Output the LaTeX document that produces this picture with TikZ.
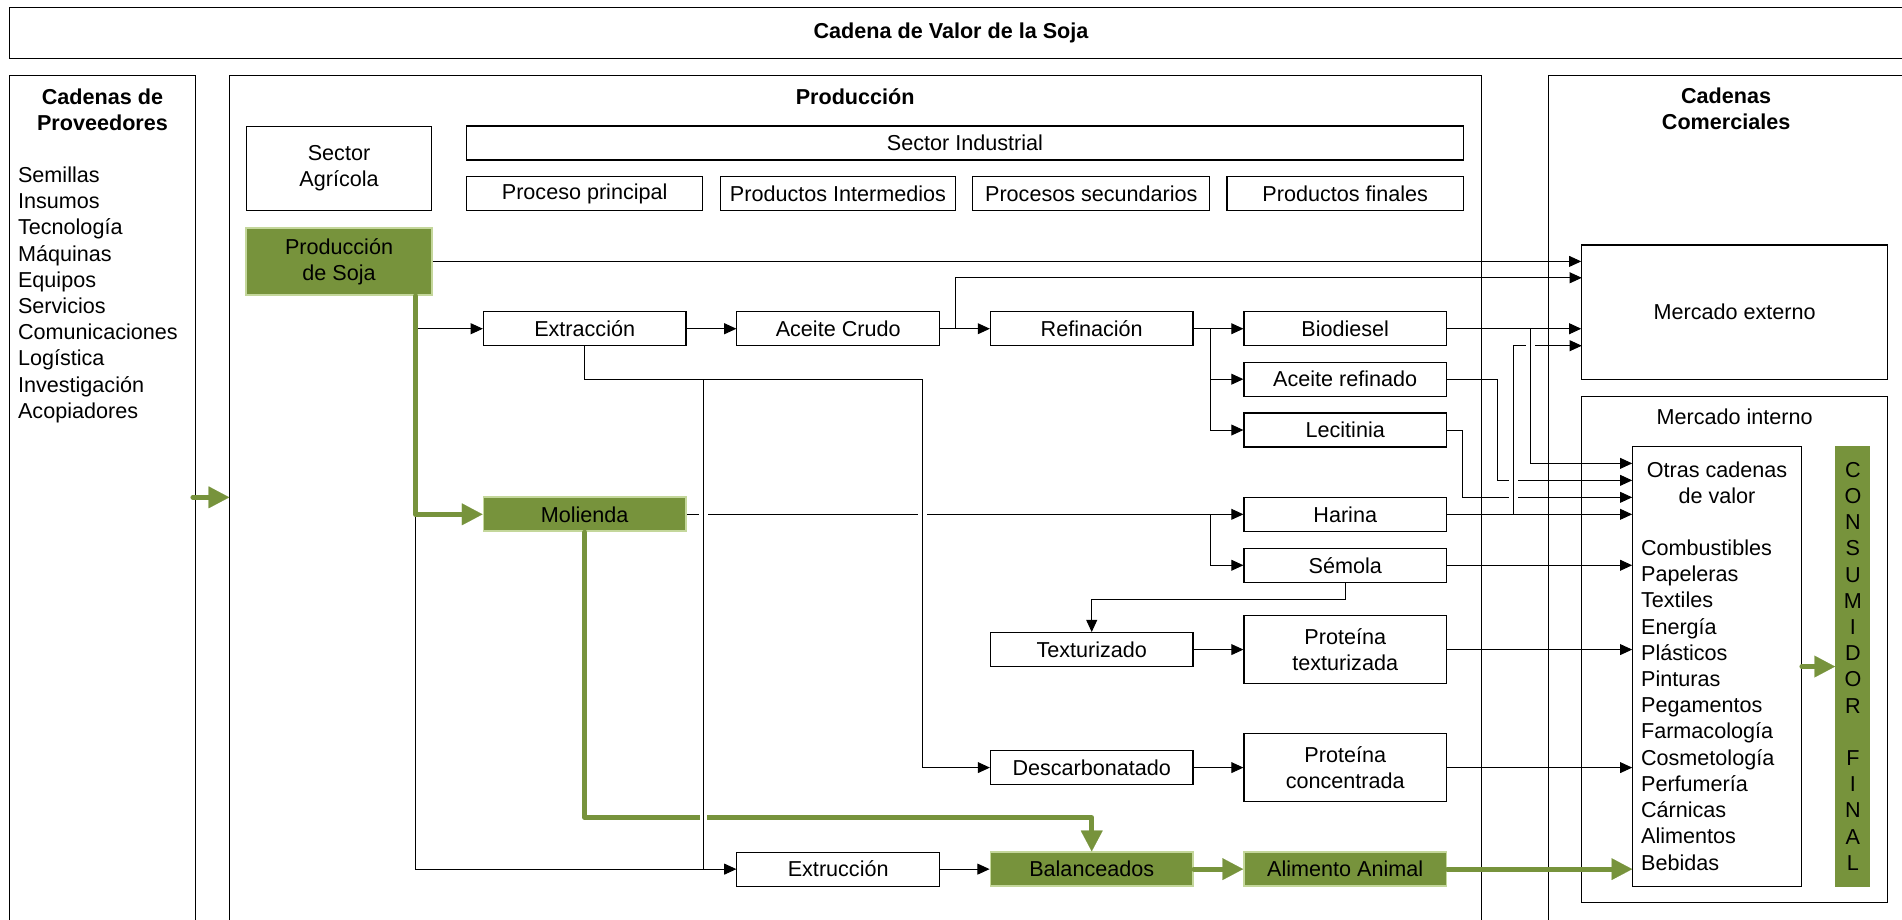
\documentclass[tikz,border=0pt]{standalone}
\usepackage{fontspec}
\setmainfont{Liberation Sans}
\usetikzlibrary{arrows.meta,calc}
\definecolor{soyg}{RGB}{119,147,60}
\definecolor{soyl}{RGB}{196,215,155}
\begin{document}
\begin{tikzpicture}[x=1pt,y=-1pt,
  every node/.style={font=\fontsize{17.8}{21.6}\selectfont, inner sep=0pt},
  box/.style={draw=black, line width=0.9pt, fill=white, minimum width=167pt, minimum height=28pt, align=center},
  gbox/.style={box, draw=soyl, fill=soyg, line width=1.4pt},
  conn/.style={line width=0.8pt},
  arr/.style={conn, -{Triangle[length=10pt,width=9pt]}},
  garr/.style={draw=soyg, line width=4pt, line cap=round, line join=round, -{Triangle[length=17pt,width=18pt,line width=0.1pt]}},
  bridge/.style={draw=white, line width=3pt},
  gbridge/.style={draw=white, line width=6pt},
  frame/.style={draw=black, line width=0.9pt},
  head/.style={font=\fontsize{17.8}{21.6}\selectfont\bfseries, align=center}
]
\useasboundingbox (0,0) rectangle (1568,758);
\clip (0,0) rectangle (1568,758);
\fill[white] (0,0) rectangle (1568,758);

% containers
\draw[frame] (7.7,6) rectangle (1600,48);
\node[head] (titulo) at (784,27.5) {Cadena de Valor de la Soja};
\draw[frame] (7.7,62) rectangle (161,800);
\node[head] (provh) at (84.5,90.3) {Cadenas de\\Proveedores};
\node[align=left, anchor=west] (provl) at (14.7,243) {Semillas\\Insumos\\Tecnología\\Máquinas\\Equipos\\Servicios\\Comunicaciones\\Logística\\Investigación\\Acopiadores};
\draw[frame] (189,62) rectangle (1221,800);
\node[head] (prodh) at (705,79.5) {Producción};
\draw[frame] (1276.7,62) rectangle (1600,800);
\node[head] (comh) at (1423,90) {Cadenas\\Comerciales};

% header boxes
\node[box, minimum width=153pt, minimum height=69.7pt] (agri) at (279.5,138.9) {Sector\\Agrícola};
\node[box, minimum width=822pt] (ind) at (795.5,117.9) {Sector Industrial};
\node[box, minimum width=195pt] (h1) at (482,159.7) {Proceso principal};
\node[box, minimum width=194.4pt] (h2) at (690.8,159.7) {Productos Intermedios};
\node[box, minimum width=195.3pt] (h3) at (899.7,159.7) {Procesos secundarios};
\node[box, minimum width=195pt] (h4) at (1109,159.7) {Productos finales};

% process nodes
\node[gbox, minimum width=153pt, minimum height=55.5pt] (soja) at (279.5,215.5) {Producción\\de Soja};
\node[box] (extr) at (482,271) {Extracción};
\node[box] (acru) at (691,271) {Aceite Crudo};
\node[box] (refi) at (900,271) {Refinación};
\node[box] (bio) at (1109,271) {Biodiesel};
\node[box] (aref) at (1109,312.6) {Aceite refinado};
\node[box] (leci) at (1109,354.5) {Lecitinia};
\node[gbox] (moli) at (482,424) {Molienda};
\node[box] (har) at (1109,424) {Harina};
\node[box] (semo) at (1109,466) {Sémola};
\node[box] (tex) at (900,535.5) {Texturizado};
\node[box, minimum height=55.5pt] (ptex) at (1109,535.5) {Proteína\\texturizada};
\node[box] (desc) at (900,632.8) {Descarbonatado};
\node[box, minimum height=55.5pt] (pcon) at (1109,632.8) {Proteína\\concentrada};
\node[box] (extru) at (691,716.5) {Extrucción};
\node[gbox] (bal) at (900,716.5) {Balanceados};
\node[gbox] (alim) at (1109,716.5) {Alimento Animal};

% markets
\node[box, minimum width=252pt, minimum height=110.6pt] (mext) at (1430,257.3) {Mercado externo};
\node[box, minimum width=252pt, minimum height=417.5pt] (mint) at (1430,535.25) {};
\node (mintl) at (1430,343.5) {Mercado interno};
\node[box, minimum width=139pt, minimum height=363pt] (inner) at (1415.5,549.5) {};
\node[align=center] (otras) at (1415.5,398.3) {Otras cadenas\\de valor};
\node[align=left, anchor=west] (lista) at (1352.7,581.25) {Combustibles\\Papeleras\\Textiles\\Energía\\Plásticos\\Pinturas\\Pegamentos\\Farmacología\\Cosmetología\\Perfumería\\Cárnicas\\Alimentos\\Bebidas};
\node[fill=soyg, minimum width=29pt, minimum height=363pt] (cons) at (1527.5,549.5) {};
\node[align=center] (consl) at (1527.5,549.3) {C\\O\\N\\S\\U\\M\\I\\D\\O\\R\\\mbox{}\\F\\I\\N\\A\\L};

% coordinates
\coordinate (gx) at (342.6,424);
\coordinate (ga) at (342.6,271);
\coordinate (ac) at (788,271);
\coordinate (ac2) at (1304,229);
\coordinate (rf) at (997.5,271);
\coordinate (mf) at (997.5,424);
\coordinate (s1) at (900,494);
\coordinate (k1) at (760.7,313);
\coordinate (k2) at (580,313);
\coordinate (k3) at (580,716.5);
\coordinate (g3) at (900,674);
\coordinate (ar1) at (1234.7,396);
\coordinate (le1) at (1206,410);
\coordinate (hb) at (1248,424);
\coordinate (hb2) at (1304,285);
\coordinate (bb) at (1262,271);
\coordinate (bb2) at (1262,382);
\coordinate (pv1) at (159,410);
\coordinate (pv2) at (189,410);

% black connectors
\draw[arr] (gx) |- (extru.west);
\draw[arr] (ga) -- (extr.west);
\draw[arr] (soja.east) -- (soja.east -| mext.west);
\draw[arr] (extr.east) -- (acru.west);
\draw[arr] (acru.east) -- (refi.west);
\draw[arr] (ac) |- (ac2);
\draw[arr] (refi.east) -- (bio.west);
\draw[arr] (rf) |- (aref.west);
\draw[arr] (rf) |- (leci.west);
\draw[arr] (moli.east) -- (har.west);
\draw[arr] (mf) |- (semo.west);
\draw[arr] (semo.south) |- (s1) -- (tex.north);
\draw[arr] (tex.east) -- (ptex.west);
\draw[arr] (desc.east) -- (pcon.west);
\draw[arr] (extru.east) -- (bal.west);
\draw[arr] (semo.east) -- (semo.east -| inner.west);
\draw[arr] (ptex.east) -- (ptex.east -| inner.west);
\draw[arr] (pcon.east) -- (pcon.east -| inner.west);

% green connectors
\draw[garr] (soja.south -| gx) -- (gx) -- (moli.west);
\draw[garr] (moli.south) |- (g3) -- (bal.north);
\draw[garr] (bal.east) -- (alim.west);
\draw[garr] (alim.east) -- (alim.east -| inner.west);
\draw[garr] (pv1) -- (pv2);
\draw[garr] (inner.east) -- (cons.west);

% bridges and crossing verticals (middle)
\draw[bridge] (576.3,424) -- (583.7,424);
\draw[bridge] (757,424) -- (764.4,424);
\draw[gbridge] (577.3,674) -- (582.7,674);
\draw[arr] (extr.south) |- (k1) |- (desc.west);
\draw[conn] (k2) -- (k3);

% right side
\draw[arr] (aref.east) -| (ar1) -- (ar1 -| inner.west);
\draw[arr] (leci.east) -| (le1) -- (le1 -| inner.west);
\draw[bridge] (1244.3,396) -- (1251.7,396);
\draw[bridge] (1244.3,410) -- (1251.7,410);
\draw[arr] (har.east) -- (har.east -| inner.west);
\draw[arr] (hb) |- (hb2);
\draw[bridge] (1258.3,285) -- (1265.7,285);
\draw[arr] (bio.east) -- (bio.east -| mext.west);
\draw[arr] (bb) -- (bb2) -- (bb2 -| inner.west);
\end{tikzpicture}
\end{document}
